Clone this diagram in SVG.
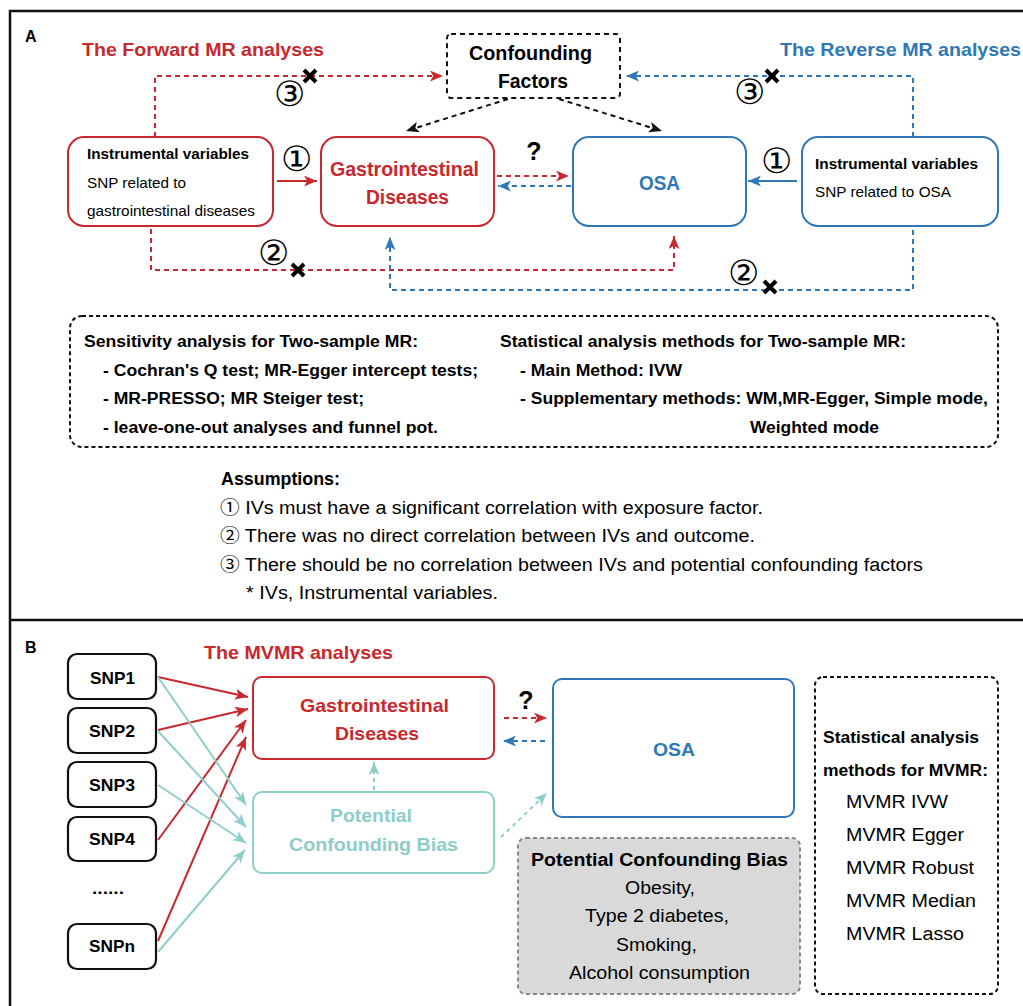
<svg xmlns="http://www.w3.org/2000/svg" width="1023" height="1006" viewBox="0 0 1023 1006">
<style>
text{font-family:"Liberation Sans",Arial,sans-serif;}
.b{font-weight:bold;}
.red{fill:#C8282E;}
.blue{fill:#2E78B7;}
.teal{fill:#8ECDC7;}
.cn{font-family:"Noto Sans CJK SC","DejaVu Sans",sans-serif;}
.rbox{fill:#fff;stroke:#C8282E;stroke-width:2;}
.bbox{fill:#fff;stroke:#2E78B7;stroke-width:2;}
.tbox{fill:#fff;stroke:#8ECFC9;stroke-width:2;}
.kbox{fill:#fff;stroke:#111;stroke-width:2.2;}
.rd{fill:none;stroke:#C8282E;stroke-width:2;stroke-dasharray:5 4;}
.bd{fill:none;stroke:#2E78B7;stroke-width:2;stroke-dasharray:5 4;}
.kd{fill:none;stroke:#111;stroke-width:2;stroke-dasharray:5 4;}
.td{fill:none;stroke:#8ECFC9;stroke-width:2;stroke-dasharray:4 4;}
.rs{fill:none;stroke:#C8282E;stroke-width:2;}
.bs{fill:none;stroke:#2E78B7;stroke-width:2;}
.ts{fill:none;stroke:#8ECFC9;stroke-width:2;}
.x{stroke:#000;stroke-width:4;stroke-linecap:butt;}
</style>
<defs>
<marker id="ar" viewBox="0 0 12 10" refX="12" refY="5" markerWidth="13" markerHeight="11" markerUnits="userSpaceOnUse" orient="auto"><path d="M0,0 L12,5 L0,10 L3,5 z" fill="#C8282E"/></marker>
<marker id="ab" viewBox="0 0 12 10" refX="12" refY="5" markerWidth="13" markerHeight="11" markerUnits="userSpaceOnUse" orient="auto"><path d="M0,0 L12,5 L0,10 L3,5 z" fill="#2E78B7"/></marker>
<marker id="ak" viewBox="0 0 12 10" refX="12" refY="5" markerWidth="13" markerHeight="11" markerUnits="userSpaceOnUse" orient="auto"><path d="M0,0 L12,5 L0,10 L3,5 z" fill="#111"/></marker>
<marker id="at" viewBox="0 0 12 10" refX="12" refY="5" markerWidth="13" markerHeight="11" markerUnits="userSpaceOnUse" orient="auto"><path d="M0,0 L12,5 L0,10 L3,5 z" fill="#8ECFC9"/></marker>
</defs>
<rect width="1023" height="1006" fill="#fff"/>
<!-- frame -->
<g id="frame" fill="none" stroke="#111" stroke-width="2.5">
<path d="M10,1006 V11 H1023"/>
<path d="M10,620 H1023"/>
</g>
<text x="25" y="42" class="b" font-size="16">A</text>
<text x="25" y="653" class="b" font-size="16">B</text>
<text x="82" y="56" class="b red" font-size="19" textLength="242" lengthAdjust="spacingAndGlyphs">The Forward MR analyses</text>
<text x="780" y="56" class="b blue" font-size="19" textLength="241" lengthAdjust="spacingAndGlyphs">The Reverse MR analyses</text>

<!-- connectors A -->
<g id="connectors-a">
<path class="rd" d="M155,137 V76 H443" marker-end="url(#ar)"/>
<path class="rd" d="M151,229 V270 H674 V236" marker-end="url(#ar)"/>
<path class="bd" d="M913,137 V76 H626" marker-end="url(#ab)"/>
<path class="bd" d="M913,230 V290 H390 V237" marker-end="url(#ab)"/>
<path class="rs" d="M277,181 H317" marker-end="url(#ar)"/>
<path class="bs" d="M797,181 H748" marker-end="url(#ab)"/>
<path class="rd" d="M497,176 H569" marker-end="url(#ar)"/>
<path class="bd" d="M571,186 H498" marker-end="url(#ab)"/>
<path class="kd" d="M508,99 L406,131" marker-end="url(#ak)"/>
<path class="kd" d="M559,99 L662,131" marker-end="url(#ak)"/>
<g class="x">
<path d="M304,70 L316,82 M316,70 L304,82"/>
<path d="M766,70 L778,82 M778,70 L766,82"/>
<path d="M292,264 L304,276 M304,264 L292,276"/>
<path d="M764,281 L776,293 M776,281 L764,293"/>
</g>
<g class="cn" font-size="35" text-anchor="middle" fill="#000">
<text x="289" y="106">③</text>
<text x="749" y="104">③</text>
<text x="273" y="265">②</text>
<text x="743" y="285">②</text>
<text x="296" y="171">①</text>
<text x="776" y="173">①</text>
</g>
<text x="534" y="160" class="b" font-size="25" text-anchor="middle">?</text>
</g>

<!-- nodes A -->
<g id="confounding">
<rect x="447" y="34" width="173" height="64" rx="4" fill="#fff" stroke="#111" stroke-width="2" stroke-dasharray="5 4"/>
<text x="469" y="60" class="b" font-size="20" textLength="123" lengthAdjust="spacingAndGlyphs">Confounding</text>
<text x="498" y="88" class="b" font-size="20" textLength="70" lengthAdjust="spacingAndGlyphs">Factors</text>
</g>
<g id="iv-forward">
<rect class="rbox" x="68" y="137" width="205" height="89" rx="16"/>
<text x="87" y="159" class="b" font-size="15" textLength="162" lengthAdjust="spacingAndGlyphs">Instrumental variables</text>
<text x="87" y="188" font-size="15" textLength="99" lengthAdjust="spacingAndGlyphs">SNP related to</text>
<text x="87" y="216" font-size="15" textLength="168" lengthAdjust="spacingAndGlyphs">gastrointestinal diseases</text>
</g>
<g id="gi-a">
<rect class="rbox" x="321" y="137" width="173" height="89" rx="16"/>
<text x="330" y="176" class="b red" font-size="20" textLength="149" lengthAdjust="spacingAndGlyphs">Gastrointestinal</text>
<text x="366" y="204" class="b red" font-size="20" textLength="83" lengthAdjust="spacingAndGlyphs">Diseases</text>
</g>
<g id="osa-a">
<rect class="bbox" x="573" y="137" width="173" height="89" rx="16"/>
<text x="639" y="190" class="b blue" font-size="20" textLength="41" lengthAdjust="spacingAndGlyphs">OSA</text>
</g>
<g id="iv-reverse">
<rect class="bbox" x="802" y="137" width="196" height="89" rx="16"/>
<text x="815" y="169" class="b" font-size="15" textLength="163" lengthAdjust="spacingAndGlyphs">Instrumental variables</text>
<text x="815" y="197" font-size="15" textLength="136" lengthAdjust="spacingAndGlyphs">SNP related to OSA</text>
</g>

<g id="methods-a">
<rect x="70" y="316" width="928" height="131" rx="12" fill="none" stroke="#111" stroke-width="2" stroke-dasharray="4 3"/>
<g class="b" font-size="16">
<text x="84" y="347" textLength="334" lengthAdjust="spacingAndGlyphs">Sensitivity analysis for Two-sample MR:</text>
<text x="103" y="376" textLength="375" lengthAdjust="spacingAndGlyphs">- Cochran's Q test; MR-Egger intercept tests;</text>
<text x="103" y="404" textLength="261" lengthAdjust="spacingAndGlyphs">- MR-PRESSO; MR Steiger test;</text>
<text x="103" y="433" textLength="335" lengthAdjust="spacingAndGlyphs">- leave-one-out analyses and funnel pot.</text>
<text x="500" y="347" textLength="406" lengthAdjust="spacingAndGlyphs">Statistical analysis methods for Two-sample MR:</text>
<text x="520" y="376" textLength="162" lengthAdjust="spacingAndGlyphs">- Main Method: IVW</text>
<text x="520" y="404" textLength="468" lengthAdjust="spacingAndGlyphs">- Supplementary methods: WM,MR-Egger, Simple mode,</text>
<text x="750" y="433" textLength="129" lengthAdjust="spacingAndGlyphs">Weighted mode</text>
</g>
</g>

<g id="assumptions" font-size="18">
<text x="221" y="485" class="b" textLength="119" lengthAdjust="spacingAndGlyphs">Assumptions:</text>
<text x="220" y="514" textLength="543" lengthAdjust="spacingAndGlyphs"><tspan class="cn">①</tspan> IVs must have a significant correlation with exposure factor.</text>
<text x="220" y="542" textLength="535" lengthAdjust="spacingAndGlyphs"><tspan class="cn">②</tspan> There was no direct correlation between IVs and outcome.</text>
<text x="220" y="571" textLength="703" lengthAdjust="spacingAndGlyphs"><tspan class="cn">③</tspan> There should be no correlation between IVs and potential confounding factors</text>
<text x="246" y="599" textLength="252" lengthAdjust="spacingAndGlyphs">* IVs, Instrumental variables.</text>
</g>

<!-- Section B -->
<text x="204" y="659" class="b red" font-size="19" textLength="189" lengthAdjust="spacingAndGlyphs">The MVMR analyses</text>
<g id="connectors-b">
<path class="rs" d="M158,677 L248,697" marker-end="url(#ar)"/>
<path class="rs" d="M158,730 L248,709" marker-end="url(#ar)"/>
<path class="rs" d="M158,840 L246,720" marker-end="url(#ar)"/>
<path class="rs" d="M158,941 L246,737" marker-end="url(#ar)"/>
<path class="ts" d="M158,677 L246,805" marker-end="url(#at)"/>
<path class="ts" d="M158,731 L246,827" marker-end="url(#at)"/>
<path class="ts" d="M158,785 L246,843" marker-end="url(#at)"/>
<path class="ts" d="M158,952 L245,850" marker-end="url(#at)"/>
<path class="rd" d="M504,718 H547" marker-end="url(#ar)"/>
<path class="bd" d="M545,741 H503" marker-end="url(#ab)"/>
<path class="td" d="M374,790 V762" marker-end="url(#at)"/>
<path class="td" d="M501,837 L547,793" marker-end="url(#at)"/>
<text x="526" y="709" class="b" font-size="25" text-anchor="middle">?</text>
</g>
<g id="snp1"><rect class="kbox" x="68" y="654" width="88" height="45" rx="9"/><text x="90" y="684" class="b" font-size="17" textLength="45" lengthAdjust="spacingAndGlyphs">SNP1</text></g>
<g id="snp2"><rect class="kbox" x="68" y="708" width="88" height="45" rx="9"/><text x="89" y="737" class="b" font-size="17" textLength="46" lengthAdjust="spacingAndGlyphs">SNP2</text></g>
<g id="snp3"><rect class="kbox" x="68" y="762" width="88" height="45" rx="9"/><text x="89" y="791" class="b" font-size="17" textLength="46" lengthAdjust="spacingAndGlyphs">SNP3</text></g>
<g id="snp4"><rect class="kbox" x="68" y="817" width="88" height="44" rx="9"/><text x="89" y="845" class="b" font-size="17" textLength="46" lengthAdjust="spacingAndGlyphs">SNP4</text></g>
<text x="92" y="894" class="b" font-size="16" textLength="32" lengthAdjust="spacingAndGlyphs">......</text>
<g id="snpn"><rect class="kbox" x="68" y="924" width="88" height="45" rx="9"/><text x="89" y="952" class="b" font-size="17" textLength="46" lengthAdjust="spacingAndGlyphs">SNPn</text></g>

<g id="gi-b">
<rect class="rbox" x="253" y="677" width="241" height="82" rx="9"/>
<text x="300" y="712" class="b red" font-size="19" textLength="149" lengthAdjust="spacingAndGlyphs">Gastrointestinal</text>
<text x="335" y="740" class="b red" font-size="19" textLength="84" lengthAdjust="spacingAndGlyphs">Diseases</text>
</g>
<g id="pcb-b">
<rect class="tbox" x="253" y="792" width="241" height="81" rx="9"/>
<text x="330" y="822" class="b teal" font-size="19" textLength="82" lengthAdjust="spacingAndGlyphs">Potential</text>
<text x="289" y="851" class="b teal" font-size="19" textLength="169" lengthAdjust="spacingAndGlyphs">Confounding Bias</text>
</g>
<g id="osa-b">
<rect class="bbox" x="553" y="679" width="241" height="138" rx="9"/>
<text x="653" y="756" class="b blue" font-size="19" textLength="42" lengthAdjust="spacingAndGlyphs">OSA</text>
</g>
<g id="pcb-list">
<rect x="518" y="838" width="282" height="156" rx="8" fill="#D9D9D9" stroke="#888" stroke-width="2" stroke-dasharray="4 3"/>
<text x="531" y="866" class="b" font-size="18" textLength="257" lengthAdjust="spacingAndGlyphs">Potential Confounding Bias</text>
<g font-size="18">
<text x="625" y="894" textLength="70" lengthAdjust="spacingAndGlyphs">Obesity,</text>
<text x="585" y="922" textLength="144" lengthAdjust="spacingAndGlyphs">Type 2 diabetes,</text>
<text x="616" y="951" textLength="81" lengthAdjust="spacingAndGlyphs">Smoking,</text>
<text x="569" y="979" textLength="181" lengthAdjust="spacingAndGlyphs">Alcohol consumption</text>
</g>
</g>
<g id="methods-b">
<rect x="815" y="677" width="183" height="317" rx="8" fill="none" stroke="#111" stroke-width="2" stroke-dasharray="4 3"/>
<text x="823" y="743" class="b" font-size="16" textLength="156" lengthAdjust="spacingAndGlyphs">Statistical analysis</text>
<text x="823" y="776" class="b" font-size="16" textLength="165" lengthAdjust="spacingAndGlyphs">methods for MVMR:</text>
<g font-size="18">
<text x="846" y="808" textLength="102" lengthAdjust="spacingAndGlyphs">MVMR IVW</text>
<text x="846" y="841" textLength="118" lengthAdjust="spacingAndGlyphs">MVMR Egger</text>
<text x="846" y="874" textLength="128" lengthAdjust="spacingAndGlyphs">MVMR Robust</text>
<text x="846" y="907" textLength="130" lengthAdjust="spacingAndGlyphs">MVMR Median</text>
<text x="846" y="940" textLength="118" lengthAdjust="spacingAndGlyphs">MVMR Lasso</text>
</g>
</g>
</svg>
